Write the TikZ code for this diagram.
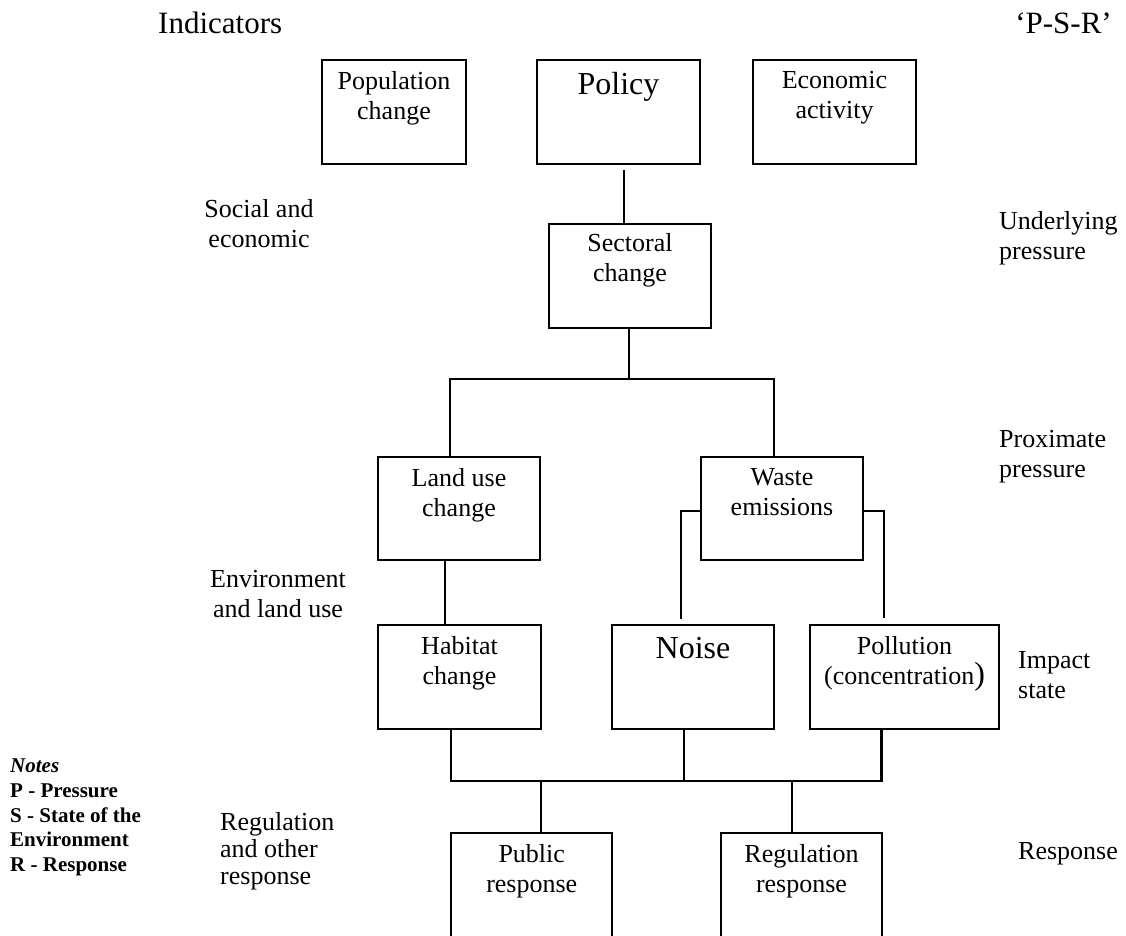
\documentclass[tikz,border=0pt]{standalone}
\usepackage{fontspec}
\setmainfont{Liberation Serif}
\newcommand{\txtbody}{\fontsize{26}{30}\selectfont}
\newcommand{\txtbig}{\fontsize{32}{36}\selectfont}
\newcommand{\txthead}{\fontsize{31}{35}\selectfont}
\newcommand{\txtnote}{\fontsize{21}{24.75}\selectfont\bfseries}
\begin{document}
\begin{tikzpicture}[x=1pt,y=1pt,
  blk/.style={draw, line width=1.7pt, minimum height=104pt, inner sep=0pt},
  intext/.style={anchor=north, yshift=-12pt, align=center, inner sep=0pt, font=\txtbody},
  conn/.style={line width=2.2pt},
  side/.style={inner sep=0pt, font=\txtbody}
]
\useasboundingbox (0,0) rectangle (1126,-936);

% headings
\node[anchor=base west, inner sep=0pt, font=\txthead] (ind) at (158,-34) {Indicators};
\node[anchor=base east, inner sep=0pt, font=\txthead] (psr) at (1112,-34) {‘P-S-R’};

% driver boxes
\node[blk, minimum width=144pt, label={[intext]90:{Population\\change}}] (pop) at (394,-112) {};
\node[blk, minimum width=163pt, label={[intext, font=\txtbig, yshift=-1pt]90:{Policy}}] (pol) at (618.5,-112) {};
\node[blk, minimum width=163pt, label={[intext]90:{Economic\\activity}}] (eco) at (834.5,-112) {};

% pressure boxes
\node[blk, minimum width=162pt, label={[intext, yshift=2pt]90:{Sectoral\\change}}] (sec) at (630,-276) {};
\node[blk, minimum width=162pt, minimum height=103pt, label={[intext]90:{Land use\\change}}] (lan) at (459,-508.5) {};
\node[blk, minimum width=162pt, minimum height=103pt, label={[intext]90:{Waste\\emissions}}] (was) at (782,-508.5) {};

% state boxes
\node[blk, minimum width=163pt, label={[intext]90:{Habitat\\change}}] (hab) at (459.5,-677) {};
\node[blk, minimum width=162pt, label={[intext, font=\txtbig, yshift=-1pt]90:{Noise}}] (noi) at (693,-677) {};
\node[blk, minimum width=189pt, label={[intext]90:{Pollution\\(concentration{\txtbig)}}}] (pll) at (904.5,-677) {};

% response boxes
\node[blk, minimum width=161pt, label={[intext]90:{Public\\response}}] (pub) at (531.75,-885) {};
\node[blk, minimum width=161pt, label={[intext]90:{Regulation\\response}}] (reg) at (801.5,-885) {};

% side labels
\node[side, align=center] (soc) at (259,-224) {Social and\\economic};
\node[side, align=center] (env) at (278,-594.5) {Environment\\and land use};
\node[side, align=left, anchor=west, font=\fontsize{26}{27}\selectfont] (rlab) at (220,-851) {Regulation\\and other\\response};
\node[side, align=left, anchor=west] (und) at (999,-238) {Underlying\\pressure};
\node[side, align=left, anchor=west] (prox) at (999,-456.5) {Proximate\\pressure};
\node[side, align=left, anchor=west] (imp) at (1018,-675.5) {Impact\\state};
\node[side, anchor=west] (resp) at (1018,-854) {Response};

% legend
\node[anchor=west, align=left, inner sep=0pt, font=\txtnote] (notes) at (10,-817.5)
  {\textit{Notes}\\P - Pressure\\S - State of the\\Environment\\R - Response};

% junction points
\coordinate (split) at (629,-379);
\coordinate (bus) at (684,-781);

% connectors
\draw[conn] ([xshift=5.5pt,yshift=-5pt]pol.south) -- ([xshift=-6pt]sec.north);
\draw[conn] ([xshift=-1pt]sec.south) -- (split);
\draw[conn] ([xshift=-9pt]lan.north) |- (split) -| ([xshift=-8pt]was.north);
\draw[conn] ([xshift=-14pt]lan.south) -- ([xshift=-14.5pt]hab.north);
\draw[conn] ([yshift=-2.5pt]was.west) -| ([xshift=-12pt,yshift=5pt]noi.north);
\draw[conn] ([yshift=-2.5pt]was.east) -| ([xshift=-20.5pt,yshift=6pt]pll.north);
\draw[conn] ([xshift=-8.5pt]hab.south) |- (bus) -| ([xshift=-23pt]pll.south);
\draw[conn] ([xshift=-9pt]noi.south) -- (bus);
\draw[conn] ([xshift=9pt]pub.north) -- ([xshift=9pt]pub.north |- bus);
\draw[conn] ([xshift=-9.5pt]reg.north) -- ([xshift=-9.5pt]reg.north |- bus);
\end{tikzpicture}
\end{document}
